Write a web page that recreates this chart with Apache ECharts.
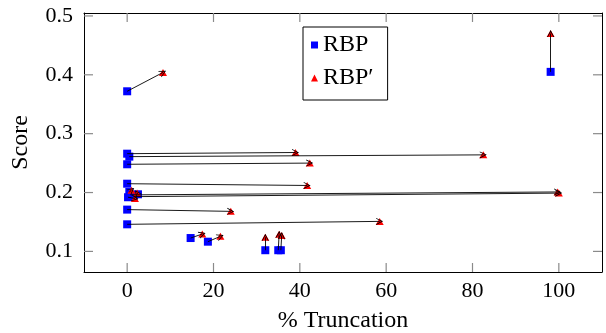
<!DOCTYPE html>
<html>
<head>
<meta charset="utf-8">
<script src="https://cdn.jsdelivr.net/npm/echarts@6/dist/echarts.min.js"></script>
<style>html,body{margin:0;padding:0;background:#fff}#c{width:606px;height:333px}</style>
</head>
<body>
<div id="c"></div>
<script>
// RBP (start) and RBP' (end) values, paired by index
const rbpX = [0, 98.1, 0, 0.5, 0, 0, 0.8, 1.5, 0.5, 0.2, 2.5, 0, 0, 14.7, 18.7, 32.0, 35.0, 35.6];
const rbpY = [0.372, 0.405, 0.266, 0.261, 0.248, 0.215, 0.196, 0.193, 0.201, 0.192, 0.197, 0.171, 0.146, 0.1227, 0.1165, 0.102, 0.102, 0.102];
const rbpPrimeX = [8.3, 98.1, 39.0, 82.5, 42.3, 41.7, 99.7, 100.0, 1.0, 1.8, 2.3, 24.0, 58.5, 17.4, 21.6, 32.0, 35.2, 35.8];
const rbpPrimeY = [0.404, 0.470, 0.268, 0.264, 0.250, 0.212, 0.201, 0.199, 0.204, 0.190, 0.199, 0.168, 0.151, 0.1295, 0.1256, 0.124, 0.129, 0.127];
const xTicks = [0, 20, 40, 60, 80, 100];
const yTicks = [0.1, 0.2, 0.3, 0.4, 0.5];
const xRange = [-10, 110];
const yRange = [0.065, 0.505];

const FONT = 'Liberation Serif';
const rbpData = rbpX.map((x, i) => [x, rbpY[i]]);
const rbpPrimeData = rbpPrimeX.map((x, i) => [x, rbpPrimeY[i]]);
const arrows = rbpX.map((x, i) => ({coords: [[x, rbpY[i]], [rbpPrimeX[i], rbpPrimeY[i]]]}));

// inward tick marks on all four sides, placed through the axes' scales
const TL = 9;
function tickSeries(data, dir) {
  return {
    type: 'custom', xAxisIndex: 0, yAxisIndex: 0, data: data, clip: false, silent: true, z: 5,
    renderItem: function (params, api) {
      const p = api.coord([api.value(0), api.value(1)]);
      return {
        type: 'line',
        shape: {x1: p[0], y1: p[1], x2: p[0] + dir[0] * TL, y2: p[1] + dir[1] * TL},
        style: {stroke: '#8a8a8a', lineWidth: 1.2, fill: null}
      };
    }
  };
}

const chart = echarts.init(document.getElementById('c'), null, {renderer: 'canvas'});
chart.setOption({
  animation: false,
  backgroundColor: '#fff',
  textStyle: {fontFamily: FONT},
  grid: {left: 84, right: 4, top: 13, bottom: 61, containLabel: false, outerBoundsMode: 'none'},
  legend: {
    orient: 'vertical', left: 303, top: 27,
    backgroundColor: '#fff',
    borderColor: '#000', borderWidth: 1, borderRadius: 0,
    padding: [6, 14, 10, 8],
    itemGap: 9, itemWidth: 7, itemHeight: 7,
    textStyle: {fontFamily: FONT, fontSize: 24, color: '#000', lineHeight: 24, padding: [0, 0, 0, 0]},
    data: [{name: 'RBP', icon: 'rect'}, {name: 'RBP\u2032', icon: 'triangle'}]
  },
  xAxis: [{
    type: 'value', min: xRange[0], max: xRange[1], position: 'bottom',
    name: '% Truncation', nameLocation: 'middle', nameGap: 37,
    nameTextStyle: {fontFamily: FONT, fontSize: 24, color: '#000'},
    axisLine: {show: true, onZero: false, lineStyle: {color: '#000', width: 1}},
    axisTick: {show: false},
    axisLabel: {customValues: xTicks, fontFamily: FONT, fontSize: 22, color: '#000', margin: 8},
    splitLine: {show: false}
  }, {
    type: 'value', min: xRange[0], max: xRange[1], position: 'top',
    axisLine: {show: true, onZero: false, lineStyle: {color: '#000', width: 1}},
    axisTick: {show: false}, axisLabel: {show: false}, splitLine: {show: false}
  }],
  yAxis: [{
    type: 'value', min: yRange[0], max: yRange[1], position: 'left',
    name: 'Score', nameLocation: 'middle', nameGap: 51, nameRotate: 90,
    nameTextStyle: {fontFamily: FONT, fontSize: 24, color: '#000'},
    axisLine: {show: true, onZero: false, lineStyle: {color: '#000', width: 1}},
    axisTick: {show: false},
    axisLabel: {customValues: yTicks, fontFamily: FONT, fontSize: 22, color: '#000', margin: 11,
      formatter: v => v.toFixed(1)},
    splitLine: {show: false}
  }, {
    type: 'value', min: yRange[0], max: yRange[1], position: 'right',
    axisLine: {show: true, onZero: false, lineStyle: {color: '#000', width: 1}},
    axisTick: {show: false}, axisLabel: {show: false}, splitLine: {show: false}
  }],
  series: [
    tickSeries(xTicks.map(t => [t, yRange[0]]), [0, -1]),
    tickSeries(xTicks.map(t => [t, yRange[1]]), [0, 1]),
    tickSeries(yTicks.map(t => [xRange[0], t]), [1, 0]),
    tickSeries(yTicks.map(t => [xRange[1], t]), [-1, 0]),
  {
    name: 'RBP', type: 'scatter', xAxisIndex: 0, yAxisIndex: 0,
    symbol: 'rect', symbolSize: 8,
    itemStyle: {color: '#0000ff', opacity: 1},
    data: rbpData, z: 2
  }, {
    name: 'RBP\u2032', type: 'scatter', xAxisIndex: 0, yAxisIndex: 0,
    symbol: 'triangle', symbolSize: [8, 7],
    itemStyle: {color: '#ff0000', opacity: 1},
    data: rbpPrimeData, z: 3
  }, {
    name: 'arrows', type: 'lines', coordinateSystem: 'cartesian2d', xAxisIndex: 0, yAxisIndex: 0,
    symbol: ['none', 'path://M5,0 L10,10 L8.8,10 L5,2.6 L1.2,10 L0,10 Z'],
    symbolSize: [0, 7],
    lineStyle: {color: '#000', width: 0.9, opacity: 1},
    data: arrows, z: 4, silent: true
  }]
});
</script>
</body>
</html>
